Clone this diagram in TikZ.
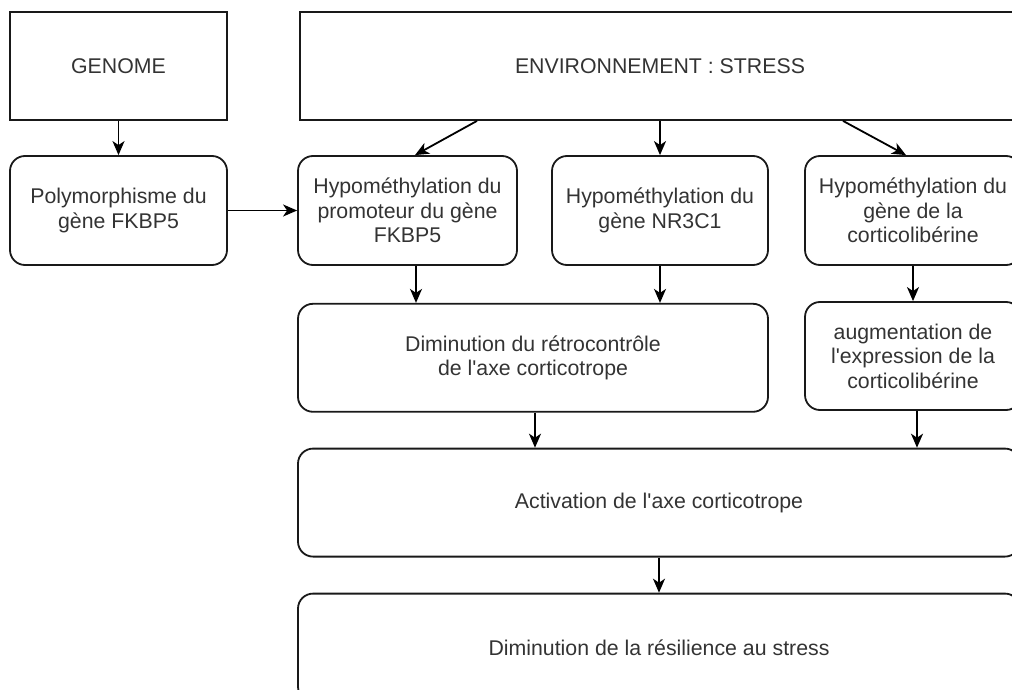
\documentclass[tikz,border=0pt]{standalone}
\usepackage{fontspec}
\setmainfont{Liberation Sans}
\usepackage{tikz}
\usetikzlibrary{arrows.meta}

\tikzset{
    link/.style={-{Stealth[length=14pt, width=12pt, inset=4pt]}, draw=black, line width=1.8pt}
}

\begin{document}
\begin{tikzpicture}[x=1pt, y=1pt, auto,
    block/.style={rectangle, draw=black!90, line width=1.8pt, minimum height=108pt, minimum width=217pt, inner sep=0pt, align=center, text=black!80, font=\fontsize{21.3pt}{24.5pt}\selectfont},
    rblock/.style={block, rounded corners=15pt}]
    \useasboundingbox (0,0) rectangle (1012,-690);
    \clip (0,0) rectangle (1012,-690);

    \node[block] (genome) at (118.5,-66) {GENOME};
    \node[block, right of=genome, node distance=541.5pt, minimum width=720pt] (env) {ENVIRONNEMENT : STRESS};
    \node[rblock, below of=genome, node distance=144.5pt, minimum height=109pt] (poly) {Polymorphisme du\\gène FKBP5};
    \node[rblock, right of=poly, node distance=289pt, minimum height=109pt, minimum width=219pt] (fkbp) {Hypométhylation du\\promoteur du gène\\FKBP5};
    \node[rblock, right of=fkbp, node distance=252.5pt, minimum height=109pt, minimum width=216pt] (nr3c1) {Hypométhylation du\\gène NR3C1};
    \node[rblock, right of=nr3c1, node distance=253pt, minimum height=109pt, minimum width=216pt] (crh) {Hypométhylation du\\gène de la\\corticolibérine};
    \node[rblock, anchor=north west, minimum width=470pt] (dim) at ([yshift=-37pt]fkbp.south west) {Diminution du rétrocontrôle\\de l\textquotesingle axe corticotrope};
    \node[rblock, below of=crh, node distance=145.5pt, minimum width=216pt] (aug) {augmentation de\\l\textquotesingle expression de la\\corticolibérine};
    \node[rblock, anchor=north west, minimum width=722pt] (act) at ([yshift=-35pt]dim.south west) {Activation de l\textquotesingle axe corticotrope};
    \node[rblock, below of=act, node distance=145pt, minimum width=722pt] (res) {Diminution de la résilience au stress};

    \draw[link] (genome) -- (poly);
    \draw[link] (poly) -- (fkbp);
    \draw[link] ([xshift=-183pt]env.south) -- ([xshift=7.5pt]fkbp.north);
    \draw[link] (env) -- (nr3c1);
    \draw[link] ([xshift=183pt]env.south) -- ([xshift=-7pt]crh.north);
    \draw[link] ([xshift=8.5pt]fkbp.south) -- ([xshift=8.5pt]fkbp.south |- dim.north);
    \draw[link] (nr3c1) -- (nr3c1 |- dim.north);
    \draw[link] (crh) -- (aug);
    \draw[link] ([xshift=2pt]dim.south) -- ([xshift=2pt]dim.south |- act.north);
    \draw[link] ([xshift=4pt]aug.south) -- ([xshift=4pt]aug.south |- act.north);
    \draw[link] (act) -- (res);
\end{tikzpicture}
\end{document}
